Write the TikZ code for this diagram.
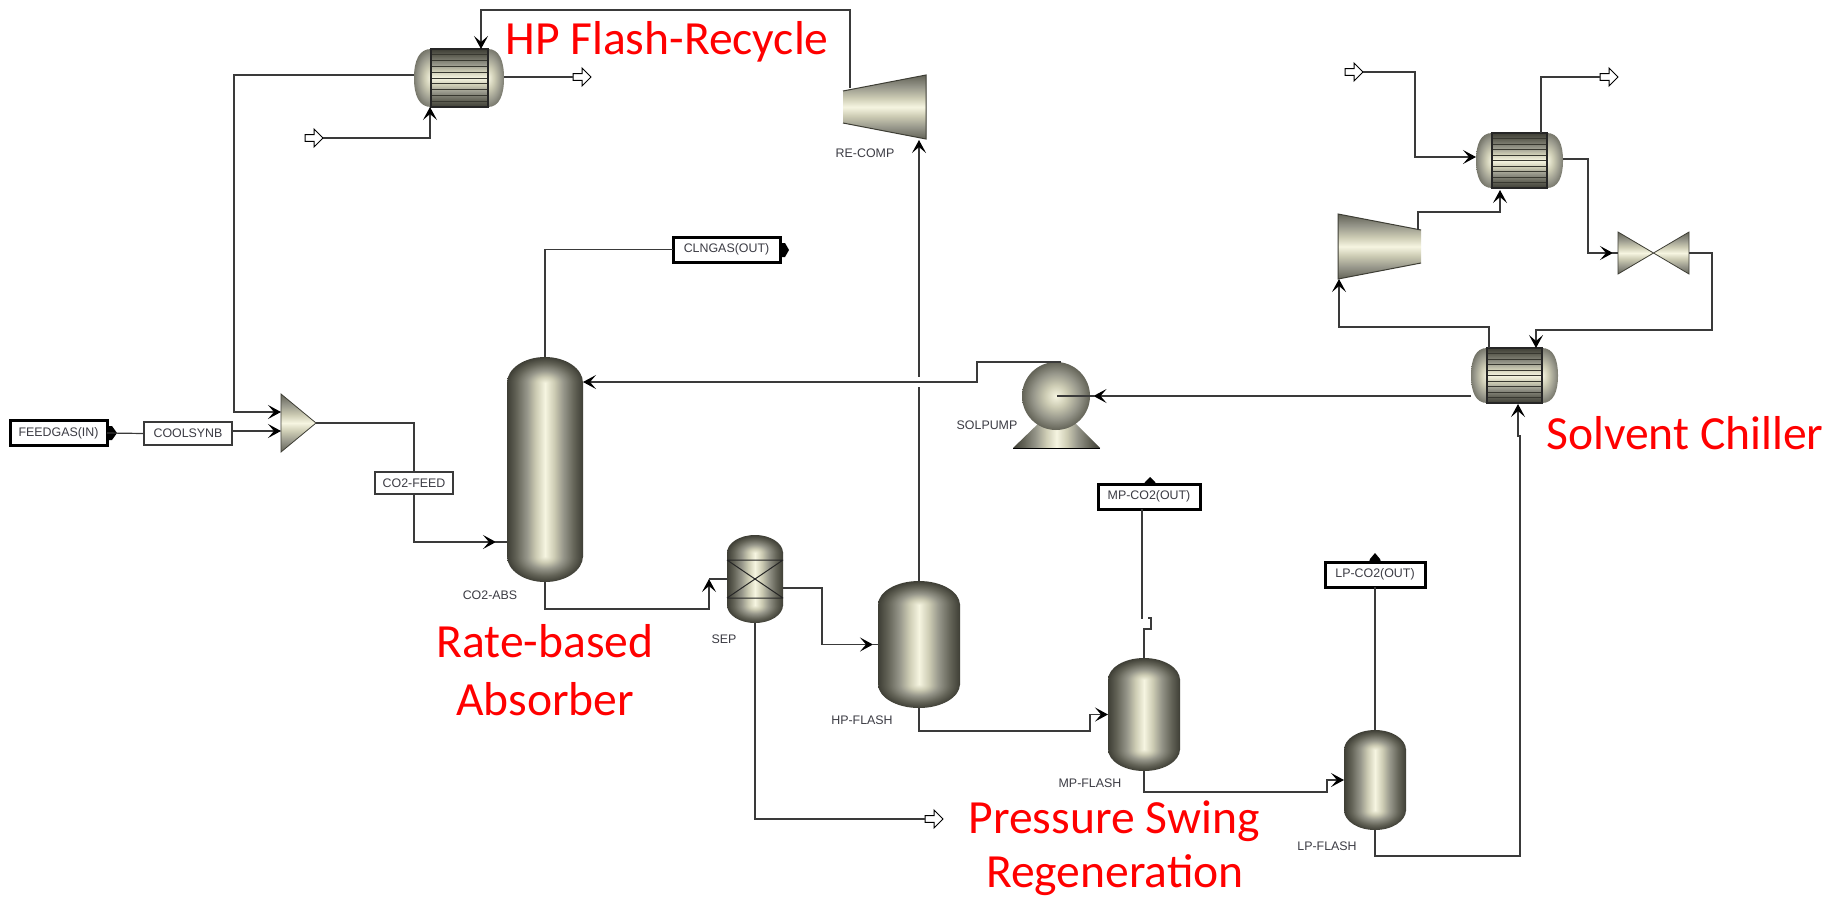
\documentclass[tikz,border=0pt]{standalone}
\usepackage{fontspec}
\setmainfont{Liberation Sans}
\newfontfamily\calloutfont{Carlito}
\usetikzlibrary{arrows.meta,shapes.arrows}
\definecolor{vA}{HTML}{F6F5E1}
\definecolor{vB}{HTML}{CDCCB4}
\definecolor{vC}{HTML}{96968A}
\definecolor{vD}{HTML}{636357}
\definecolor{vE}{HTML}{3E3E35}
\definecolor{pipecol}{HTML}{3A3A3A}
\definecolor{tagcol}{HTML}{3C3C44}
\pgfdeclarehorizontalshading{vesselbody}{100bp}{color(0bp)=(vE); color(25bp)=(vE); color(31bp)=(vD); color(38bp)=(vC); color(44bp)=(vB); color(50bp)=(vA); color(56bp)=(vB); color(62bp)=(vC); color(69bp)=(vD); color(75bp)=(vE); color(100bp)=(vE)}
\pgfdeclareverticalshading{bandshade}{100bp}{color(0bp)=(vE); color(25bp)=(vE); color(31bp)=(vD); color(38bp)=(vC); color(44bp)=(vB); color(50bp)=(vA); color(56bp)=(vB); color(62bp)=(vC); color(69bp)=(vD); color(75bp)=(vE); color(100bp)=(vE)}
\pgfdeclareverticalshading{softband}{100bp}{color(0bp)=(vD); color(25bp)=(vD); color(34bp)=(vC); color(43bp)=(vB); color(50bp)=(vA); color(57bp)=(vB); color(66bp)=(vC); color(75bp)=(vD); color(100bp)=(vD)}
\pgfdeclareradialshading{vesselcap}{\pgfpoint{0bp}{0bp}}{color(0bp)=(vA); color(6bp)=(vB); color(12bp)=(vC); color(19bp)=(vD); color(25bp)=(vE); color(50bp)=(vE)}
\pgfdeclareradialshading{softcap}{\pgfpoint{0bp}{0bp}}{color(0bp)=(vA); color(8bp)=(vB); color(17bp)=(vC); color(25bp)=(vD); color(50bp)=(vD)}
\tikzset{
  unitbox/.style={rectangle,inner sep=0pt,outer sep=0pt},
  pipe/.style={draw=pipecol,line width=1.2pt},
  pipeA/.style={pipe,-{Stealth[length=13pt,width=14pt,inset=6pt,color=black]}},
  openarrow/.style={single arrow,draw=black,fill=white,line width=1pt,inner sep=2pt,outer sep=0pt,
    minimum height=18pt,minimum width=18pt,single arrow head extend=4pt,single arrow tip angle=90},
  thinbox/.style={rectangle,draw=pipecol,fill=white,line width=1.2pt,inner sep=0pt,outer sep=0pt,font=\fontsize{12.4pt}{14pt}\selectfont,text=tagcol},
  heavybox/.style={thinbox,draw=black,line width=3pt},
  tag/.style={inner sep=0pt,outer sep=0pt,font=\fontsize{12.4pt}{14pt}\selectfont,text=tagcol},
  callout/.style={inner sep=0pt,outer sep=0pt,anchor=base,text=red,font=\calloutfont\fontsize{47.6pt}{54pt}\selectfont},
  portmark/.style={fill=black,draw=none},
  outlinecol/.style={draw=vE,line width=1pt}
}
\newcommand{\UnitBox}[5]{\node[unitbox,minimum width={#4-#2},minimum height={#5-#3}] (#1) at ({(#2+#4)/2},{(#3+#5)/2}) {};}
\newcommand{\VesselAt}[6]{%
  \shade[shading=vesselbody] (#2,{#3+#6-0.5}) rectangle (#4,{#5-#6+0.5});
  \begin{scope}\clip (#2,#3) rectangle (#4,{#3+#6});
    \shade[shading=vesselcap] ({(#2+#4)/2},{#3+#6}) ellipse [x radius={(#4-#2)/2},y radius=#6];
  \end{scope}
  \begin{scope}\clip (#2,{#5-#6}) rectangle (#4,#5);
    \shade[shading=vesselcap] ({(#2+#4)/2},{#5-#6}) ellipse [x radius={(#4-#2)/2},y radius=#6];
  \end{scope}
  \UnitBox{#1}{#2}{#3}{#4}{#5}}
\newcommand{\ExchangerAt}[7]{%
  \pgfmathsetmacro{\hxM}{(#3+#5)/2}\pgfmathsetmacro{\hxH}{#5-#3}%
  \begin{scope}\clip (#6,#3) .. controls ({#2+0.3*(#6-#2)},#3) and (#2,{#3+0.2*\hxH}) .. (#2,\hxM) .. controls (#2,{#5-0.2*\hxH}) and ({#2+0.3*(#6-#2)},#5) .. (#6,#5) -- cycle;
    \shade[shading=softcap] (#6,\hxM) ellipse [x radius={(#6-#2)*1.2},y radius={\hxH*0.58}];
  \end{scope}
  \begin{scope}\clip (#7,#3) .. controls ({#4-0.3*(#4-#7)},#3) and (#4,{#3+0.2*\hxH}) .. (#4,\hxM) .. controls (#4,{#5-0.2*\hxH}) and ({#4-0.3*(#4-#7)},#5) .. (#7,#5) -- cycle;
    \shade[shading=softcap] (#7,\hxM) ellipse [x radius={(#4-#7)*1.2},y radius={\hxH*0.58}];
  \end{scope}
  \shade[shading=bandshade] (#6,#3) rectangle (#7,#5);
  \foreach \hxk in {1,...,9}{\draw[draw=vE!90!black,line width=0.9pt] (#6,{#3+\hxk*\hxH/10}) -- (#7,{#3+\hxk*\hxH/10});}
  \draw[draw=black!85,line width=1.1pt] (#6,#3) rectangle (#7,#5);
  \UnitBox{#1}{#2}{#3}{#4}{#5}}
\begin{document}
\begin{tikzpicture}[x=1pt,y=-1pt]
\useasboundingbox (0,0) rectangle (1833,898);
\fill[white] (0,0) rectangle (1833,898);

% ---- process units
\VesselAt{abs}{507}{357}{583}{582}{26}
\VesselAt{hp}{878}{581}{960}{708}{24}
\VesselAt{mp}{1108}{658}{1180}{771}{22}
\VesselAt{lp}{1344}{730}{1406}{830}{20}
\VesselAt{sep}{727}{535}{783}{623}{18}
\draw[draw=black!85,line width=1pt] (727,560) -- (783,560) (727,598) -- (783,598) (727,560) -- (783,598) (783,560) -- (727,598);
\ExchangerAt{hxa}{414}{49}{504}{107}{431}{488}
\ExchangerAt{hxb}{1476}{133}{1563}{188}{1492}{1547}
\ExchangerAt{hxc}{1471}{348}{1558}{403}{1487}{1542}

% compressors
\shade[shading=softband] (843,91) -- (926,75) -- (926,139) -- (843,123) -- cycle;
\draw[outlinecol] (843,91) -- (926,75) -- (926,139) -- (843,123);
\UnitBox{recomp}{843}{75}{926}{139}
\shade[shading=softband] (1338,214) -- (1421,230) -- (1421,263) -- (1338,279) -- cycle;
\draw[outlinecol] (1421,230) -- (1338,214) -- (1338,279) -- (1421,263);
\UnitBox{compb}{1338}{214}{1421}{279}

% valve
\shade[shading=softband] (1618,232) -- (1654,253) -- (1618,274) -- cycle;
\shade[shading=softband] (1689,232) -- (1654,253) -- (1689,274) -- cycle;
\draw[outlinecol,line width=0.8pt] (1618,232) -- (1689,274) -- (1689,232) -- (1618,274) -- cycle;
\UnitBox{valve}{1618}{232}{1689}{274}

% mixer
\shade[shading=softband] (281,394) -- (316,423) -- (281,452) -- cycle;
\draw[outlinecol,line width=0.8pt] (281,394) -- (316,423) -- (281,452) -- cycle;
\UnitBox{mixer}{281}{394}{316}{452}

% pump
\shade[shading=vesselbody] (1013,448) -- (1042,420) -- (1072,420) -- (1100,448) -- cycle;
\draw[draw=black,line width=1pt] (1013,448) -- (1100,448);
\shade[shading=softcap] (1056,396) ellipse [x radius=34,y radius=34];
\UnitBox{pump}{1013}{362}{1100}{448}

% ---- stream tables
\node[heavybox,minimum width=97pt,minimum height=25pt] (feedgas) at (58.5,433) {FEEDGAS(IN)};
\node[thinbox,minimum width=88pt,minimum height=23pt] (coolsynb) at (188,433.5) {COOLSYNB};
\node[thinbox,minimum width=78pt,minimum height=22pt] (coofeed) at (414,483) {CO2-FEED};
\node[heavybox,minimum width=107pt,minimum height=25pt] (clngas) at (726.5,249.5) {CLNGAS(OUT)};
\node[heavybox,minimum width=102pt,minimum height=25pt] (mpco) at (1149,496.5) {MP-CO2(OUT)};
\node[heavybox,minimum width=100pt,minimum height=25pt] (lpco) at (1375,574.5) {LP-CO2(OUT)};

\fill[portmark] (107,426) -- (112,426) -- (117,433) -- (112,440) -- (107,440) -- cycle;
\fill[portmark] (780,243) -- (785,243) -- (789,250) -- (785,257) -- (780,257) -- cycle;
\fill[portmark] (1144,484) -- (1145,482) -- (1150,477) -- (1155,482) -- (1156,484) -- cycle;
\fill[portmark] (1369,562) -- (1370,559) -- (1375,553) -- (1380,559) -- (1381,562) -- cycle;

% ---- open stream ends
\node[openarrow,anchor=tip] (outa) at (591,77) {};
\node[openarrow,anchor=tip] (ina) at (323,138) {};
\node[openarrow,anchor=tip] (outc) at (943,819) {};
\node[openarrow,anchor=tip] (inb) at (1363,72) {};
\node[openarrow,anchor=tip] (outb) at (1618,77) {};

% ---- connectors
\coordinate (sepin) at (709,579);
\coordinate (crossA) at (919,377);
\coordinate (crossB) at (919,387);
\draw[pipeA] ([yshift=3]hxa.west) -- (234,75) |- ([yshift=11]mixer.west);
\draw[pipeA] ([xshift=7,yshift=-13]recomp.north west) -- (850,10) -- (481,10) -- ([xshift=22]hxa.north);
\draw[pipe] ([yshift=1]hxa.east) -- (outa.tail);
\draw[pipeA] (ina.tip) -| ([xshift=-29]hxa.south);
\draw[pipe] (feedgas.east) -- (coolsynb.west);
\draw[pipeA] ([yshift=2.5]coolsynb.east) -- ([yshift=-8]mixer.west);
\draw[pipe] (mixer.east) -| (coofeed.north);
\draw[pipeA] (coofeed.south) |- ([xshift=-11,yshift=-72.5]abs.west);
\draw[pipe] ([xshift=-12,yshift=-72.5]abs.west) -- ([yshift=-72.5]abs.west);
\draw[pipe] (abs.north) |- (clngas.west);
\draw[pipeA] (abs.south) |- (709,609) -- (sepin);
\draw[pipe] (sepin) -- (sep.west);
\draw[pipeA] ([yshift=-9]sep.east) -- (822,588) |- ([xshift=-5]hp.west);
\draw[pipe] ([xshift=-6]hp.west) -- (hp.west);
\draw[pipe] (sep.south) |- (outc.tail);
\draw[pipeA] (hp.north) -- ([xshift=-7,yshift=-1]recomp.south east);
\draw[draw=white,line width=2pt] (crossA) -- (crossB);
\draw[pipeA] (hp.south) |- (1090,731) |- (mp.west);
\draw[pipe] (mp.north) -- (1144,629) -- (1151,629) -- (1151,618) -- (1142,618) -- ([xshift=-7]mpco.south);
\draw[draw=white,line width=2pt] (1143,618) -- (1148,618);
\draw[pipeA] (mp.south) |- (1327,792) |- (lp.west);
\draw[pipe] (lp.north) -- (lpco.south);
\draw[pipeA] (lp.south) |- (1520,856) -- (1520,436) -- (1518,436) -- ([xshift=3.5,yshift=-1]hxc.south);
\draw[pipeA] ([yshift=-20.5]hxc.west) -- ([xshift=37,yshift=9]pump.center);
\draw[pipe] ([xshift=38,yshift=9]pump.center) -- ([yshift=9]pump.center);
\draw[pipeA] ([xshift=4.5]pump.north) -- (977,362) -- (977,382) -- ([yshift=87.5]abs.east);
\draw[pipeA] ([xshift=-25.5]hxc.north) -- (1489,327) -- (1339,327) -- ([xshift=1]compb.south west);
\draw[pipeA] ([xshift=-3,yshift=-16]compb.north east) -- (1418,212) -| ([xshift=-19.5,yshift=-2]hxb.south);
\draw[pipeA] (inb.tip) -- (1415,72) |- ([yshift=3.5]hxb.west);
\draw[pipe] ([xshift=21.5]hxb.north) |- (outb.tail);
\draw[pipeA] ([yshift=1.5]hxb.east) -- (1588,159) |- ([xshift=-5]valve.west);
\draw[pipe] ([xshift=-6]valve.west) -- (valve.west);
\draw[pipeA] (valve.east) -- (1712,253) -- (1712,330) -- (1536,330) -- ([xshift=21.5]hxc.north);

% ---- unit labels
\node[tag] (tagabs) at (490,595) {CO2-ABS};
\node[tag] (tagsep) at (724,639) {SEP};
\node[tag] (taghp) at (862,720) {HP-FLASH};
\node[tag] (tagmp) at (1090,783) {MP-FLASH};
\node[tag] (taglp) at (1327,846) {LP-FLASH};
\node[tag] (tagre) at (865,153) {RE-COMP};
\node[tag] (tagpump) at (987,425) {SOLPUMP};

% ---- call-outs
\node[callout] (cHP) at (667,54) {HP Flash-Recycle};
\node[callout] (cSC) at (1685,449) {Solvent Chiller};
\node[callout] (cRB) at (545,657) {Rate-based};
\node[callout] (cAB) at (545,715) {Absorber};
\node[callout] (cPS) at (1114,833) {Pressure Swing};
\node[callout] (cRG) at (1115,887) {Regeneration};
\end{tikzpicture}
\end{document}
